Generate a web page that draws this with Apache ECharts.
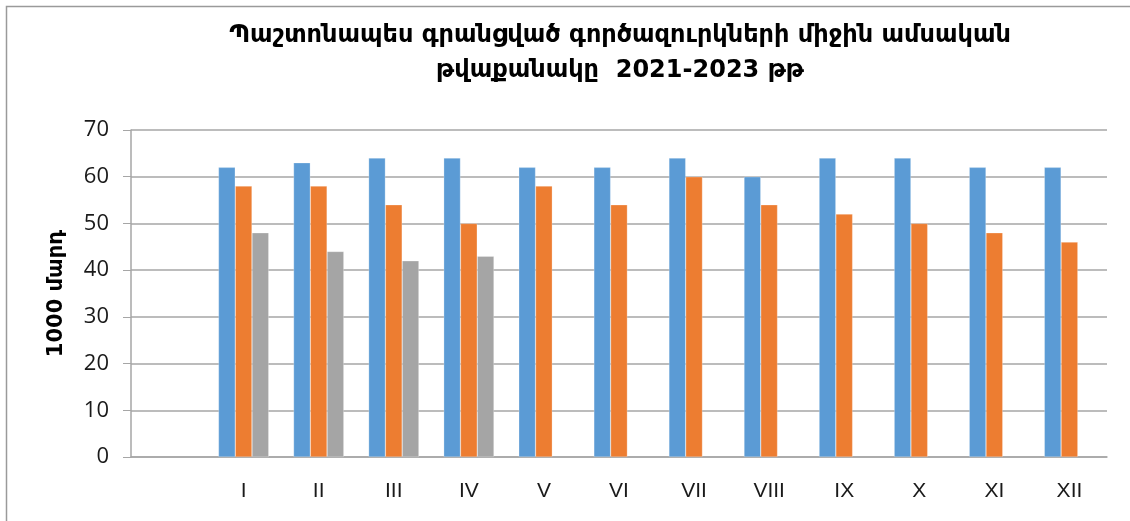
<!DOCTYPE html>
<html lang="hy" style="height: 100%">
<head>
  <meta charset="utf-8">
</head>
<body style="height: 100%; margin: 0; background: #fff">
  <div id="container" style="width: 1130px; height: 521px"></div>

  <script type="text/javascript" src="https://cdn.jsdelivr.net/npm/echarts@6/dist/echarts.min.js"></script>

  <script type="text/javascript">
    // months (first slot is empty in the original chart)
    var months = ['', 'I', 'II', 'III', 'IV', 'V', 'VI', 'VII', 'VIII', 'IX', 'X', 'XI', 'XII'];
    var y2021 = [null, 62, 63, 64, 64, 62, 62, 64, 60, 64, 64, 62, 62];
    var y2022 = [null, 58, 58, 54, 50, 58, 54, 60, 54, 52, 50, 48, 46];
    var y2023 = [null, 48, 44, 42, 43, null, null, null, null, null, null, null, null];
    var yTicks = [0, 10, 20, 30, 40, 50, 60, 70];

    var dom = document.getElementById('container');
    var myChart = echarts.init(dom, null, { renderer: 'canvas' });

    var barStyle = function (color) {
      return {
        type: 'bar',
        barGap: '0%',
        barCategoryGap: '33%',
        itemStyle: { color: color, borderColor: 'rgba(255,255,255,0.5)', borderWidth: 0.5 }
      };
    };

    var s1 = barStyle('#5B9BD5'); s1.name = '2021'; s1.data = y2021;
    var s2 = barStyle('#ED7D31'); s2.name = '2022'; s2.data = y2022;
    var s3 = barStyle('#A5A5A5'); s3.name = '2023'; s3.data = y2023;

    var option = {
      animation: false,
      backgroundColor: '#fff',
      textStyle: { fontFamily: 'DejaVu Sans' },
      graphic: [{
        type: 'rect',
        shape: { x: 6.5, y: 6.5, width: 1140, height: 530 },
        style: { fill: 'none', stroke: '#9a9a9a', lineWidth: 1.5 },
        silent: true
      }],
      title: {
        text: 'Պաշտոնապես գրանցված գործազուրկների միջին ամսական\nթվաքանակը  2021-2023 թթ',
        left: 615,
        top: 13,
        textAlign: 'center',
        textStyle: {
          fontFamily: 'DejaVu Sans',
          fontWeight: 'bold',
          fontSize: 24,
          lineHeight: 35,
          color: '#000'
        }
      },
      grid: {
        left: 131,
        right: 23,
        top: 130,
        bottom: 64,
        containLabel: false
      },
      xAxis: {
        type: 'category',
        data: months,
        axisLine: { lineStyle: { color: '#a6a6a6', width: 1.5 } },
        axisTick: { show: false },
        axisLabel: {
          color: '#1a1a1a',
          fontFamily: 'Liberation Sans Narrow, Liberation Sans',
          fontSize: 21,
          margin: 24
        }
      },
      yAxis: {
        type: 'value',
        min: yTicks[0],
        max: yTicks[yTicks.length - 1],
        interval: 10,
        name: '1000 մարդ',
        nameLocation: 'middle',
        nameGap: 64,
        nameTextStyle: {
          fontFamily: 'DejaVu Sans',
          fontWeight: 'bold',
          fontSize: 21,
          color: '#000'
        },
        axisLine: { show: true, lineStyle: { color: '#a6a6a6', width: 1.5 } },
        axisTick: { show: true, length: 8, lineStyle: { color: '#a6a6a6' } },
        splitLine: { lineStyle: { color: '#a6a6a6', width: 1.5 } },
        axisLabel: {
          color: '#1a1a1a',
          fontFamily: 'Open Sans',
          fontSize: 22,
          margin: 22
        }
      },
      series: [s1, s2, s3]
    };

    myChart.setOption(option);
    window.addEventListener('resize', myChart.resize);
  </script>
</body>
</html>
